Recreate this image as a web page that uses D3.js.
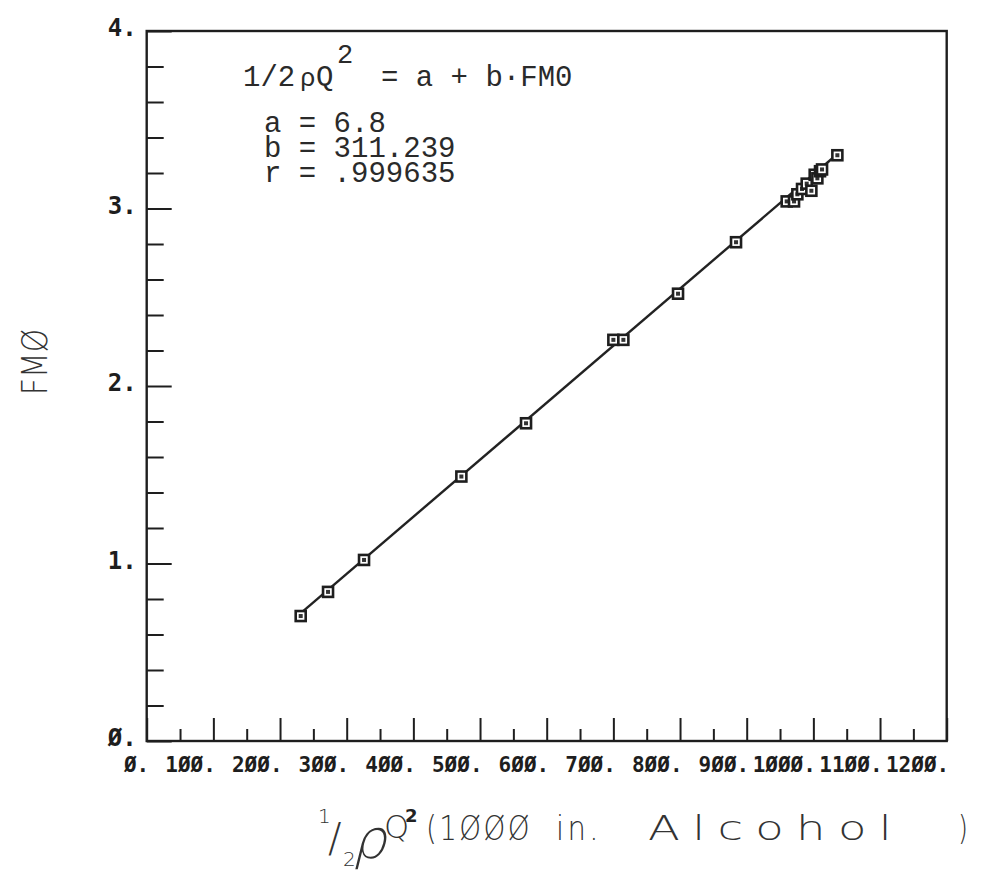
<!DOCTYPE html>
<html>
<head>
<meta charset="utf-8">
<script src="https://cdn.jsdelivr.net/npm/d3@7/dist/d3.min.js"></script>
<style>
  body { margin: 0; background: #fff; }
  #chart { width: 984px; height: 873px; }
  .tick line { stroke: #1e1e1e; stroke-width: 2; }
  .tick text { font-family: "DejaVu Sans Mono", monospace; font-weight: bold; font-size: 21px; fill: #1e1e1e; }
  .y-labels .tick text { font-size: 24px; }
</style>
</head>
<body>
<div id="chart"></div>
<script>
//Datos
const qValues = [231, 272, 326, 472, 569, 700, 715, 797, 884, 960, 971, 976, 983, 990, 997, 1002, 1006, 1010, 1013, 1036];
const fmValues = [0.704, 0.84, 1.02, 1.49, 1.79, 2.26, 2.26, 2.52, 2.81, 3.04, 3.04, 3.08, 3.11, 3.14, 3.10, 3.19, 3.17, 3.21, 3.22, 3.30];

const xTicks = [0, 100, 200, 300, 400, 500, 600, 700, 800, 900, 1000, 1100, 1200];
const xTickLabels = ['Ø.', '1ØØ.', '2ØØ.', '3ØØ.', '4ØØ.', '5ØØ.', '6ØØ.', '7ØØ.', '8ØØ.', '9ØØ.', '1ØØØ.', '11ØØ.', '12ØØ.'];
const xMinorTicks = [50, 150, 250, 350, 450, 550, 650, 750, 850, 950, 1050, 1150];
const yTicks = [0, 1, 2, 3, 4];
const yTickLabels = ['Ø.', '1.', '2.', '3.', '4.'];
const yMinorTicks = [0.2, 0.4, 0.6, 0.8, 1.2, 1.4, 1.6, 1.8, 2.2, 2.4, 2.6, 2.8, 3.2, 3.4, 3.6, 3.8];

//Ajuste lineal: 1/2 rho Q^2 = a + b * FM0
const fitA = 6.8, fitB = 311.239, fitR = '.999635';

let margin = {top: 31, right: 37.3, bottom: 132, left: 146.7},
    width = 984 - margin.left - margin.right,
    height = 873 - margin.top - margin.bottom;

let root = d3.select('#chart')
    .append('svg')
        .attr('width', 984)
        .attr('height', 873);

root.append('rect').attr('width', 984).attr('height', 873).attr('fill', '#fff');

let svg = root.append('g')
    .attr('transform', 'translate(' + margin.left + ',' + margin.top + ')');

let x = d3.scaleLinear().domain([0, 1200]).range([0, width]);
let y = d3.scaleLinear().domain([0, 4]).range([height, 0]);

//Ejes (ticks hacia dentro)
svg.append('g')
    .attr('transform', 'translate(0,' + height + ')')
    .call(d3.axisBottom(x).tickValues(xMinorTicks).tickSize(-12).tickFormat(''))
    .call(g => g.select('.domain').remove());

svg.append('g')
    .attr('transform', 'translate(0,' + height + ')')
    .call(d3.axisBottom(x).tickValues(xTicks).tickSize(-23).tickPadding(16).tickFormat((d, i) => xTickLabels[i]))
    .call(g => g.select('.domain').remove())
    .call(g => g.selectAll('text').attr('text-anchor', 'end').attr('x', 2));

svg.append('g')
    .call(d3.axisLeft(y).tickValues(yMinorTicks).tickSize(-17).tickFormat(''))
    .call(g => g.select('.domain').remove());

svg.append('g')
    .attr('class', 'y-labels')
    .call(d3.axisLeft(y).tickValues(yTicks).tickSize(-25).tickPadding(10).tickFormat((d, i) => yTickLabels[i]))
    .call(g => g.select('.domain').remove())
    .call(g => g.selectAll('text').attr('dy', '0.2em'));

//Marco
svg.append('rect')
    .attr('width', width)
    .attr('height', height)
    .attr('fill', 'none')
    .attr('stroke', '#1e1e1e')
    .attr('stroke-width', 2.4);

//Recta de ajuste
let fmExtent = d3.extent(fmValues);
svg.append('path')
    .datum(fmExtent)
    .attr('fill', 'none')
    .attr('stroke', '#222')
    .attr('stroke-width', 2.4)
    .attr('d', d3.line().x(f => x(fitA + fitB * f)).y(f => y(f)));

//Puntos
let points = qValues.map((q, i) => ({q: q, fm: fmValues[i]}));
let marks = svg.append('g').selectAll('g')
    .data(points)
    .enter()
    .append('g')
    .attr('transform', d => 'translate(' + x(d.q) + ',' + y(d.fm) + ')');
marks.append('rect')
    .attr('x', -5).attr('y', -5).attr('width', 10).attr('height', 10)
    .attr('fill', '#fff').attr('stroke', '#1e1e1e').attr('stroke-width', 2.6);
marks.append('rect')
    .attr('x', -2).attr('y', -2).attr('width', 4).attr('height', 4)
    .attr('fill', '#333');

//Texto de la ecuación
const mono = '"Liberation Mono", "Courier New", monospace';
let eq = root.append('g').attr('font-family', mono).attr('font-size', 29).attr('fill', '#2a2a2a');
eq.append('text').attr('x', 243).attr('y', 86).text('1/2');
eq.append('text').attr('x', 300).attr('y', 86).attr('font-size', 26).text('ρ');
eq.append('text').attr('x', 316).attr('y', 86).text('Q');
eq.append('text').attr('x', 337).attr('y', 63).attr('font-size', 27).text('2');
eq.append('text').attr('x', 381).attr('y', 86).text('= a + b·FM0');
eq.append('text').attr('x', 264).attr('y', 132).text('a = ' + fitA);
eq.append('text').attr('x', 264).attr('y', 157).text('b = ' + fitB);
eq.append('text').attr('x', 264).attr('y', 182).text('r = ' + fitR);

//Título eje Y
root.append('text')
    .attr('transform', 'translate(47,362) rotate(-90)')
    .attr('text-anchor', 'middle')
    .attr('font-family', '"DejaVu Sans", sans-serif')
    .attr('font-weight', 200)
    .attr('font-size', 36)
    .attr('textLength', 66)
    .attr('lengthAdjust', 'spacingAndGlyphs')
    .attr('fill', '#333')
    .text('FMØ');

//Título eje X
let xl = root.append('g').attr('font-family', '"DejaVu Sans", sans-serif').attr('font-weight', 200).attr('fill', '#333');
xl.append('text').attr('x', 318).attr('y', 823).attr('font-size', 20).text('1');
xl.append('text').attr('x', 328).attr('y', 852).attr('font-size', 40).text('/');
xl.append('text').attr('x', 343).attr('y', 866).attr('font-size', 20).text('2');
xl.append('text').attr('transform', 'translate(352,858) skewX(-14)').attr('font-size', 54).text('ρ');
xl.append('text').attr('x', 384).attr('y', 838).attr('font-size', 32).text('Q');
xl.append('text').attr('x', 405).attr('y', 822).attr('font-size', 18).attr('font-weight', 'bold').attr('fill', '#222').text('2');

let words = [
    {t: '(1ØØØ', x0: 426, len: 106, ls: 3},
    {t: 'in.', x0: 556, len: 46, ls: 4},
    {t: 'Alcohol', x0: 648, len: 256, ls: 9},
    {t: ')', x0: 958, len: 10, ls: 0}
];
xl.selectAll('.word')
    .data(words)
    .enter()
    .append('text')
    .attr('class', 'word')
    .attr('x', d => d.x0)
    .attr('y', 840)
    .attr('font-size', 34)
    .attr('letter-spacing', d => d.ls)
    .attr('textLength', d => d.len)
    .attr('lengthAdjust', 'spacingAndGlyphs')
    .text(d => d.t);
</script>
</body>
</html>
